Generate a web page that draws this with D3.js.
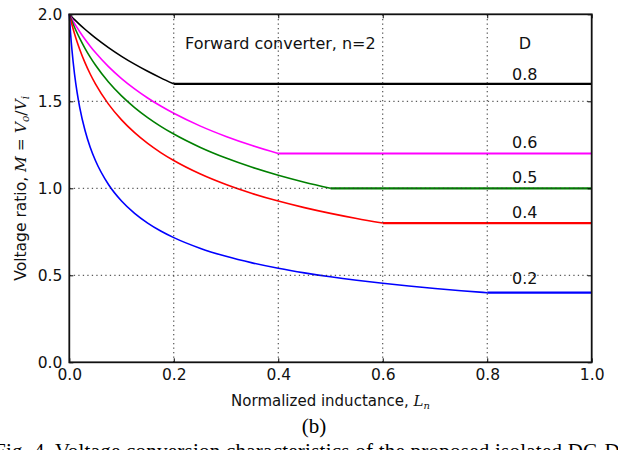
<!DOCTYPE html>
<html>
<head>
<meta charset="utf-8">
<script src="https://cdn.jsdelivr.net/npm/d3@7"></script>
<style>
  html, body { margin: 0; padding: 0; background: #fff; }
  svg { display: block; }
  .tick-label { font-family: "DejaVu Sans", sans-serif; font-size: 15.5px; fill: #111; }
  .plain { font-family: "DejaVu Sans", sans-serif; fill: #111; }
  .math { font-family: "DejaVu Serif", "Liberation Serif", serif; font-style: italic; }
</style>
</head>
<body>
<svg id="chart" width="618" height="450"></svg>
<script>
// Normalized inductance samples (x axis)
const lnSamples = [0, 0.0025, 0.005, 0.01, 0.015, 0.02, 0.03, 0.04, 0.05, 0.075,
  0.1, 0.125, 0.15, 0.175, 0.2, 0.25, 0.3, 0.35, 0.4, 0.45,
  0.5, 0.55, 0.6, 0.65, 0.7, 0.75, 0.8, 0.9, 1.0];

// Voltage ratio M for each duty cycle D, at the samples above
const mD80 = [2.0, 1.9923, 1.9846, 1.9697, 1.9552, 1.9411, 1.9142, 1.8885, 1.8643, 1.8084,
  1.7584, 1.7134, 1.6723, 1.6347, 1.6, 1.6, 1.6, 1.6, 1.6, 1.6,
  1.6, 1.6, 1.6, 1.6, 1.6, 1.6, 1.6, 1.6, 1.6];
const mD60 = [2.0, 1.9863, 1.9730, 1.9473, 1.9230, 1.8997, 1.8564, 1.8167, 1.7800, 1.6992,
  1.6307, 1.5713, 1.5192, 1.4728, 1.4311, 1.3588, 1.2980, 1.2457, 1.2, 1.2,
  1.2, 1.2, 1.2, 1.2, 1.2, 1.2, 1.2, 1.2, 1.2];
const mD50 = [2.0, 1.9804, 1.9615, 1.9258, 1.8925, 1.8614, 1.8046, 1.7539, 1.7082, 1.6108,
  1.5311, 1.4641, 1.4065, 1.3562, 1.3117, 1.2361, 1.1736, 1.1207, 1.0752, 1.0353,
  1.0, 1.0, 1.0, 1.0, 1.0, 1.0, 1.0, 1.0, 1.0];
const mD40 = [2.0, 1.9697, 1.9411, 1.8885, 1.8411, 1.7980, 1.7220, 1.6569, 1.6, 1.4839,
  1.3933, 1.3197, 1.2581, 1.2054, 1.1596, 1.0833, 1.0216, 0.9703, 0.9267, 0.8889,
  0.8558, 0.8264, 0.8, 0.8, 0.8, 0.8, 0.8, 0.8, 0.8];
const mD20 = [2.0, 1.8885, 1.7980, 1.6569, 1.5497, 1.4641, 1.3333, 1.2361, 1.1596, 1.0216,
  0.9267, 0.8558, 0.8, 0.7545, 0.7165, 0.6558, 0.6090, 0.5714, 0.5403, 0.5140,
  0.4913, 0.4715, 0.4540, 0.4384, 0.4244, 0.4116, 0.4, 0.4, 0.4];

// Duty cycle labels and the inductance where each curve turns flat
const dutyLabels = ["0.8", "0.6", "0.5", "0.4", "0.2"];
const kneeLn = [0.2, 0.4, 0.5, 0.6, 0.8];
const labelM = [1.62, 1.23, 1.03, 0.83, 0.45];

const xTicks = [0, 0.2, 0.4, 0.6, 0.8, 1.0];
const yTicks = [0, 0.5, 1.0, 1.5, 2.0];

const seriesValues = [mD80, mD60, mD50, mD40, mD20];
const seriesColors = ["#000000", "#ff00ff", "#008000", "#ff0000", "#0000ff"];

const svg = d3.select("#chart");
svg.append("rect").attr("width", 618).attr("height", 450).attr("fill", "#fff");

const x = d3.scaleLinear().domain([0, 1]).range([69.3, 591.7]);
const y = d3.scaleLinear().domain([0, 2]).range([362.3, 14.3]);

const plot = svg.append("g");

// Curves: rising part as a smooth curve, flat part as a straight segment
const curveGen = d3.line().x(d => x(d[0])).y(d => y(d[1])).curve(d3.curveMonotoneX);
const flatGen = d3.line().x(d => x(d[0])).y(d => y(d[1]));

seriesValues.forEach((vals, i) => {
  const pts = lnSamples.map((l, j) => [l, vals[j]]);
  const knee = kneeLn[i];
  const rising = pts.filter(p => p[0] <= knee + 1e-9);
  const flat = pts.filter(p => p[0] >= knee - 1e-9);
  plot.append("path").attr("d", curveGen(rising))
    .attr("fill", "none").attr("stroke", seriesColors[i]).attr("stroke-width", 1.6);
  plot.append("path").attr("d", flatGen(flat))
    .attr("fill", "none").attr("stroke", seriesColors[i]).attr("stroke-width", 2.2);
});

// Dotted grid, drawn over the curves
const grid = svg.append("g").attr("stroke", "#333").attr("stroke-width", 1)
  .attr("stroke-dasharray", "1.3,3.2");
xTicks.slice(1, -1).forEach(t => {
  grid.append("line").attr("x1", x(t)).attr("x2", x(t)).attr("y1", y(0)).attr("y2", y(2));
});
yTicks.slice(1, -1).forEach(t => {
  grid.append("line").attr("x1", x(0)).attr("x2", x(1)).attr("y1", y(t)).attr("y2", y(t));
});

// Axes with inward ticks on all four sides
const tickLen = 4;
const axB = svg.append("g").attr("transform", `translate(0,${y(0)})`)
  .call(d3.axisBottom(x).tickValues(xTicks).tickSizeInner(-tickLen).tickSizeOuter(0).tickPadding(7).tickFormat(d3.format(".1f")));
const axT = svg.append("g").attr("transform", `translate(0,${y(2)})`)
  .call(d3.axisTop(x).tickValues(xTicks).tickSizeInner(-tickLen).tickSizeOuter(0).tickFormat(""));
const axL = svg.append("g").attr("transform", `translate(${x(0)},0)`)
  .call(d3.axisLeft(y).tickValues(yTicks).tickSizeInner(-tickLen).tickSizeOuter(0).tickPadding(7).tickFormat(d3.format(".1f")));
const axR = svg.append("g").attr("transform", `translate(${x(1)},0)`)
  .call(d3.axisRight(y).tickValues(yTicks).tickSizeInner(-tickLen).tickSizeOuter(0).tickFormat(""));
[axB, axT, axL, axR].forEach(a => {
  a.select(".domain").remove();
  a.selectAll(".tick line").attr("stroke", "#000").attr("stroke-width", 1);
  a.selectAll(".tick text").attr("class", "tick-label").attr("font-size", null).attr("font-family", null).attr("fill", null);
});
axB.selectAll(".tick text").attr("dy", "0.71em");

// Frame
svg.append("rect").attr("x", x(0)).attr("y", y(2))
  .attr("width", x(1) - x(0)).attr("height", y(0) - y(2))
  .attr("fill", "none").attr("stroke", "#111").attr("stroke-width", 1.8);

// Annotations
svg.append("text").attr("class", "plain").attr("font-size", 16)
  .attr("x", x(0.2216)).attr("y", y(1.80)).text("Forward converter, n=2");
svg.append("text").attr("class", "plain").attr("font-size", 16)
  .attr("x", x(0.872)).attr("y", y(1.80)).attr("text-anchor", "middle").text("D");
dutyLabels.forEach((lab, i) => {
  svg.append("text").attr("class", "plain").attr("font-size", 16)
    .attr("x", x(0.872)).attr("y", y(labelM[i])).attr("text-anchor", "middle").text(lab);
});

// Axis titles
const xt = svg.append("text").attr("class", "plain").attr("font-size", 15)
  .attr("x", (x(0) + x(1)) / 2).attr("y", 406).attr("text-anchor", "middle");
xt.append("tspan").text("Normalized inductance, ");
xt.append("tspan").attr("class", "math").text("L");
xt.append("tspan").attr("class", "math").attr("font-size", 10).attr("dy", 3).text("n");

const yt = svg.append("text").attr("class", "plain").attr("font-size", 15.5)
  .attr("transform", `translate(26,${(y(0) + y(2)) / 2}) rotate(-90)`)
  .attr("text-anchor", "middle");
yt.append("tspan").text("Voltage ratio, ");
yt.append("tspan").attr("class", "math").text("M");
yt.append("tspan").attr("font-family", "DejaVu Serif, serif").text(" = ");
yt.append("tspan").attr("class", "math").text("V");
yt.append("tspan").attr("class", "math").attr("font-size", 10.5).attr("dy", 3).text("o");
yt.append("tspan").attr("font-family", "DejaVu Serif, serif").attr("dy", -3).text("/");
yt.append("tspan").attr("class", "math").text("V");
yt.append("tspan").attr("class", "math").attr("font-size", 10.5).attr("dy", 3).text("i");

// Sub-figure caption
svg.append("text").attr("x", 314).attr("y", 433).attr("text-anchor", "middle")
  .attr("font-family", "Liberation Serif, Times New Roman, serif").attr("font-size", 21)
  .attr("fill", "#000").text("(b)");
svg.append("text").attr("x", -6).attr("y", 458)
  .attr("font-family", "Liberation Serif, Times New Roman, serif").attr("font-size", 21)
  .attr("fill", "#000").attr("textLength", 640).attr("lengthAdjust", "spacing")
  .text("Fig. 4.  Voltage conversion characteristics of the proposed isolated DC-DC");
</script>
</body>
</html>
